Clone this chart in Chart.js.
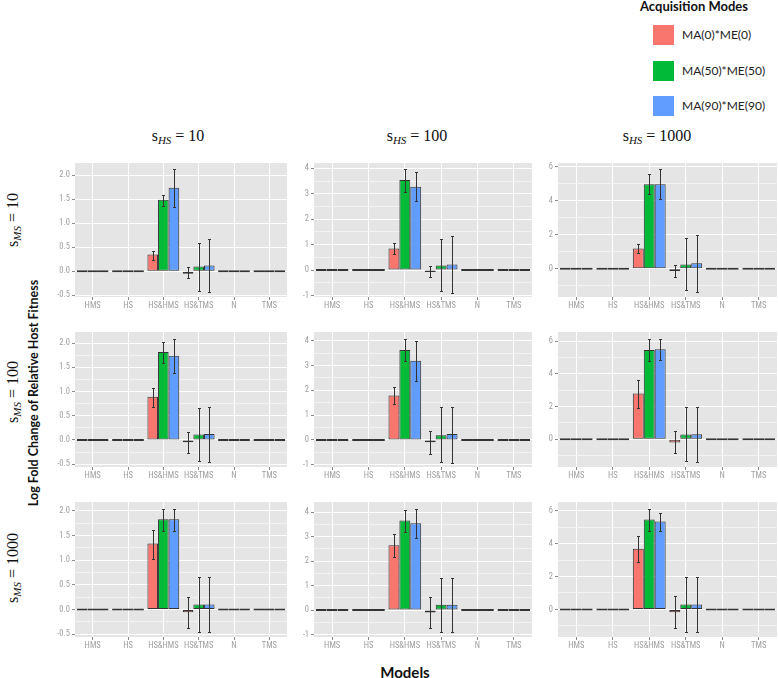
<!DOCTYPE html>
<html>
<head>
<meta charset="utf-8">
<script src="https://cdn.jsdelivr.net/npm/chart.js@4.4.0/dist/chart.umd.min.js"></script>
<style>
  body { margin: 0; background: #fff; }
  #wrap { position: relative; width: 778px; height: 678px; overflow: hidden; font-family: Lato, 'Open Sans', sans-serif; }
  .panel { position: absolute; }
  .colTitle { position: absolute; top: 127px; font-family: 'Liberation Serif', 'DejaVu Serif', serif; font-size: 16px; color: #111; transform: translateX(-50%); white-space: nowrap; }
  .rowTitle { position: absolute; font-family: 'Liberation Serif', 'DejaVu Serif', serif; font-size: 16px; color: #111; white-space: nowrap; transform: translate(-50%, -50%) rotate(-90deg); }
  sub { font-size: 11px; font-style: italic; vertical-align: -3px; }
  #ytitle { position: absolute; left: 33px; top: 393px; font-weight: bold; font-size: 12.5px; color: #111; white-space: nowrap; transform: translate(-50%, -50%) rotate(-90deg); }
  #xtitle { position: absolute; left: 405px; top: 672px; font-weight: bold; font-size: 15px; color: #111; transform: translate(-50%, -50%); }
  #legend { position: absolute; left: 640px; top: 0; }
  #legend .ttl { position: absolute; left: 0; top: -2px; font-weight: bold; font-size: 13px; color: #111; white-space: nowrap; }
  #legend .box { position: absolute; left: 13px; width: 21px; height: 20px; }
  #legend .lab { position: absolute; left: 42px; font-size: 12px; color: #222; white-space: nowrap; }
</style>
</head>
<body>
<div id="wrap">
  <div id="ytitle">Log Fold Change of Relative Host Fitness</div>
  <div id="xtitle">Models</div>
  <div id="legend"></div>
</div>
<script>
const categories = ['HMS', 'HS', 'HS&HMS', 'HS&TMS', 'N', 'TMS'];
const modes = ['MA(0)*ME(0)', 'MA(50)*ME(50)', 'MA(90)*ME(90)'];
const hsLevels = ['10', '100', '1000'];
const msLevels = ['10', '100', '1000'];

// s_MS = 10
const ms10_hs10_mean = [[0, 0, 0.35, -0.05, 0, 0], [0, 0, 1.49, 0.10, 0, 0], [0, 0, 1.74, 0.12, 0, 0]];
const ms10_hs10_low  = [[null, null, 0.23, -0.14, null, null], [null, null, 1.35, -0.41, null, null], [null, null, 1.34, -0.44, null, null]];
const ms10_hs10_high = [[null, null, 0.42, 0.08, null, null], [null, null, 1.59, 0.60, null, null], [null, null, 2.13, 0.67, null, null]];

const ms10_hs100_mean = [[0, 0, 0.85, -0.07, 0, 0], [0, 0, 3.54, 0.18, 0, 0], [0, 0, 3.28, 0.22, 0, 0]];
const ms10_hs100_low  = [[null, null, 0.63, -0.29, null, null], [null, null, 3.06, -0.83, null, null], [null, null, 2.70, -0.89, null, null]];
const ms10_hs100_high = [[null, null, 1.05, 0.16, null, null], [null, null, 3.97, 1.22, null, null], [null, null, 3.84, 1.35, null, null]];

const ms10_hs1000_mean = [[0, 0, 1.20, -0.12, 0, 0], [0, 0, 4.97, 0.25, 0, 0], [0, 0, 4.97, 0.33, 0, 0]];
const ms10_hs1000_low  = [[null, null, 0.91, -0.45, null, null], [null, null, 4.41, -1.24, null, null], [null, null, 4.08, -1.34, null, null]];
const ms10_hs1000_high = [[null, null, 1.48, 0.21, null, null], [null, null, 5.55, 1.83, null, null], [null, null, 5.86, 2.00, null, null]];

// s_MS = 100
const ms100_hs10_mean = [[0, 0, 0.89, -0.05, 0, 0], [0, 0, 1.815, 0.11, 0, 0], [0, 0, 1.74, 0.12, 0, 0]];
const ms100_hs10_low  = [[null, null, 0.68, -0.27, null, null], [null, null, 1.59, -0.44, null, null], [null, null, 1.38, -0.45, null, null]];
const ms100_hs10_high = [[null, null, 1.08, 0.17, null, null], [null, null, 2.03, 0.65, null, null], [null, null, 2.09, 0.68, null, null]];

const ms100_hs100_mean = [[0, 0, 1.79, -0.09, 0, 0], [0, 0, 3.62, 0.19, 0, 0], [0, 0, 3.19, 0.24, 0, 0]];
const ms100_hs100_low  = [[null, null, 1.44, -0.58, null, null], [null, null, 3.19, -0.90, null, null], [null, null, 2.39, -0.91, null, null]];
const ms100_hs100_high = [[null, null, 2.12, 0.35, null, null], [null, null, 4.07, 1.32, null, null], [null, null, 4.00, 1.34, null, null]];

const ms100_hs1000_mean = [[0, 0, 2.79, -0.20, 0, 0], [0, 0, 5.45, 0.28, 0, 0], [0, 0, 5.50, 0.30, 0, 0]];
const ms100_hs1000_low  = [[null, null, 1.92, -0.87, null, null], [null, null, 4.75, -1.35, null, null], [null, null, 4.81, -1.37, null, null]];
const ms100_hs1000_high = [[null, null, 3.62, 0.48, null, null], [null, null, 6.10, 1.94, null, null], [null, null, 6.14, 1.98, null, null]];

// s_MS = 1000
const ms1000_hs10_mean = [[0, 0, 1.34, -0.06, 0, 0], [0, 0, 1.83, 0.10, 0, 0], [0, 0, 1.83, 0.10, 0, 0]];
const ms1000_hs10_low  = [[null, null, 1.03, -0.37, null, null], [null, null, 1.59, -0.46, null, null], [null, null, 1.59, -0.46, null, null]];
const ms1000_hs10_high = [[null, null, 1.62, 0.26, null, null], [null, null, 2.04, 0.65, null, null], [null, null, 2.04, 0.66, null, null]];

const ms1000_hs100_mean = [[0, 0, 2.65, -0.10, 0, 0], [0, 0, 3.66, 0.22, 0, 0], [0, 0, 3.55, 0.22, 0, 0]];
const ms1000_hs100_low  = [[null, null, 2.18, -0.72, null, null], [null, null, 3.21, -0.89, null, null], [null, null, 2.94, -0.89, null, null]];
const ms1000_hs100_high = [[null, null, 3.10, 0.55, null, null], [null, null, 4.08, 1.30, null, null], [null, null, 4.15, 1.32, null, null]];

const ms1000_hs1000_mean = [[0, 0, 3.69, -0.18, 0, 0], [0, 0, 5.47, 0.30, 0, 0], [0, 0, 5.35, 0.30, 0, 0]];
const ms1000_hs1000_low  = [[null, null, 2.88, -1.11, null, null], [null, null, 4.78, -1.38, null, null], [null, null, 4.78, -1.38, null, null]];
const ms1000_hs1000_high = [[null, null, 4.44, 0.79, null, null], [null, null, 6.12, 1.99, null, null], [null, null, 5.88, 1.99, null, null]];

// y axis limits per panel (rows = s_MS, cols = s_HS)
const yMin = [[-0.535, -1.06, -1.65], [-0.56, -1.09, -1.70], [-0.56, -1.10, -1.68]];
const yMax = [[2.256, 4.21, 6.21], [2.23, 4.35, 6.55], [2.18, 4.42, 6.53]];
const majorStep = [0.5, 1, 2];
const minorStep = [0.25, 0.5, 1];

const meanData = [
    [ms10_hs10_mean, ms10_hs100_mean, ms10_hs1000_mean],
    [ms100_hs10_mean, ms100_hs100_mean, ms100_hs1000_mean],
    [ms1000_hs10_mean, ms1000_hs100_mean, ms1000_hs1000_mean]
];
const lowData = [
    [ms10_hs10_low, ms10_hs100_low, ms10_hs1000_low],
    [ms100_hs10_low, ms100_hs100_low, ms100_hs1000_low],
    [ms1000_hs10_low, ms1000_hs100_low, ms1000_hs1000_low]
];
const highData = [
    [ms10_hs10_high, ms10_hs100_high, ms10_hs1000_high],
    [ms100_hs10_high, ms100_hs100_high, ms100_hs1000_high],
    [ms1000_hs10_high, ms1000_hs100_high, ms1000_hs1000_high]
];

// layout
const modeColors = ['#F8766D', '#00BA38', '#619CFF'];
const colPlotLeft = [75, 314, 558];
const colPlotWidth = [212, 218, 219];
const colAxisWidth = [35, 25, 25];
const rowPlotTop = [163, 332, 502];
const rowPlotHeight = [134, 135, 135];
const PAD_TOP = 8;
const PAD_RIGHT = 1;
const X_AXIS_H = 20;
const tickFont = { family: "'Liberation Sans Narrow', 'Arial Narrow', 'Roboto Condensed', Arial, sans-serif", size: 8.5 };

function isMajor(v, step) {
    const q = v / step;
    return Math.abs(q - Math.round(q)) < 1e-6;
}

// grey panel background + error bars
const panelPlugin = {
    id: 'panelBits',
    beforeDraw(chart) {
        const { ctx, chartArea: a } = chart;
        ctx.save();
        ctx.fillStyle = '#e5e5e5';
        ctx.fillRect(a.left, a.top, a.right - a.left, a.bottom - a.top);
        ctx.restore();
    },
    afterDatasetsDraw(chart) {
        const { ctx } = chart;
        const y = chart.scales.y;
        ctx.save();
        ctx.strokeStyle = '#333';
        ctx.lineWidth = 1;
        chart.data.datasets.forEach((ds, i) => {
            const meta = chart.getDatasetMeta(i);
            meta.data.forEach((bar, j) => {
                const lo = ds.errLow[j];
                const hi = ds.errHigh[j];
                if (lo == null || hi == null) return;
                const x = Math.round(bar.x) + 0.5;
                const y1 = Math.round(y.getPixelForValue(lo)) + 0.5;
                const y2 = Math.round(y.getPixelForValue(hi)) + 0.5;
                ctx.beginPath();
                ctx.moveTo(x, y1); ctx.lineTo(x, y2);
                ctx.moveTo(x - 1.5, y1); ctx.lineTo(x + 1.5, y1);
                ctx.moveTo(x - 1.5, y2); ctx.lineTo(x + 1.5, y2);
                ctx.stroke();
            });
        });
        ctx.restore();
    }
};

const wrap = document.getElementById('wrap');

function makePanel(r, c) {
    const yW = colAxisWidth[c];
    const w = yW + colPlotWidth[c] + PAD_RIGHT;
    const h = PAD_TOP + rowPlotHeight[r] + X_AXIS_H;
    const div = document.createElement('div');
    div.className = 'panel';
    div.style.left = (colPlotLeft[c] - yW) + 'px';
    div.style.top = (rowPlotTop[r] - PAD_TOP) + 'px';
    const cv = document.createElement('canvas');
    cv.width = w; cv.height = h;
    cv.style.width = w + 'px'; cv.style.height = h + 'px';
    div.appendChild(cv);
    wrap.appendChild(div);

    const major = majorStep[c];
    new Chart(cv, {
        type: 'bar',
        data: {
            labels: categories,
            datasets: modes.map((m, k) => ({
                label: m,
                data: meanData[r][c][k],
                errLow: lowData[r][c][k],
                errHigh: highData[r][c][k],
                backgroundColor: modeColors[k],
                borderColor: '#333',
                borderWidth: 1,
                borderSkipped: false,
                categoryPercentage: 0.9,
                barPercentage: 1.0,
                minBarLength: 2
            }))
        },
        options: {
            responsive: false,
            animation: false,
            devicePixelRatio: 1,
            layout: { padding: { top: PAD_TOP, right: PAD_RIGHT, left: 0, bottom: 0 } },
            plugins: { legend: { display: false }, tooltip: { enabled: false } },
            scales: {
                x: {
                    border: { display: false },
                    grid: { offset: false, color: '#ffffff', lineWidth: 1, tickColor: '#888', tickLength: 3 },
                    ticks: { color: '#a0a0a0', font: tickFont, padding: 1, maxRotation: 0, autoSkip: false },
                    afterFit: s => { s.height = X_AXIS_H; }
                },
                y: {
                    min: yMin[r][c],
                    max: yMax[r][c],
                    border: { display: false },
                    grid: {
                        color: ctx => isMajor(ctx.tick.value, major) ? '#ffffff' : '#f2f2f2',
                        tickColor: ctx => isMajor(ctx.tick.value, major) ? '#888' : 'rgba(0,0,0,0)',
                        lineWidth: 1,
                        tickLength: 3
                    },
                    ticks: {
                        stepSize: minorStep[c],
                        includeBounds: false,
                        color: '#a0a0a0',
                        font: tickFont,
                        padding: 2,
                        callback: v => {
                            if (!isMajor(v, major)) return '';
                            return c === 0 ? v.toFixed(1) : String(Math.round(v));
                        }
                    },
                    afterFit: s => { s.width = yW; }
                }
            }
        },
        plugins: [panelPlugin]
    });
}

for (let r = 0; r < 3; r++) {
    for (let c = 0; c < 3; c++) makePanel(r, c);
}

// facet strip titles
const colTitleX = [178, 417, 657];
hsLevels.forEach((lv, c) => {
    const d = document.createElement('div');
    d.className = 'colTitle';
    d.style.left = colTitleX[c] + 'px';
    d.innerHTML = 's<sub>HS</sub> = ' + lv;
    wrap.appendChild(d);
});
const rowTitleY = [220, 392, 568];
msLevels.forEach((lv, r) => {
    const d = document.createElement('div');
    d.className = 'rowTitle';
    d.style.left = '13px';
    d.style.top = rowTitleY[r] + 'px';
    d.innerHTML = 's<sub>MS</sub> = ' + lv;
    wrap.appendChild(d);
});

// legend
const legend = document.getElementById('legend');
legend.innerHTML = '<div class="ttl">Acquisition Modes</div>' + modes.map((m, k) =>
    `<div class="box" style="top:${25 + k * 35.5}px;background:${modeColors[k]}"></div>` +
    `<div class="lab" style="top:${27 + k * 35.5}px">${m}</div>`
).join('');
</script>
</body>
</html>
